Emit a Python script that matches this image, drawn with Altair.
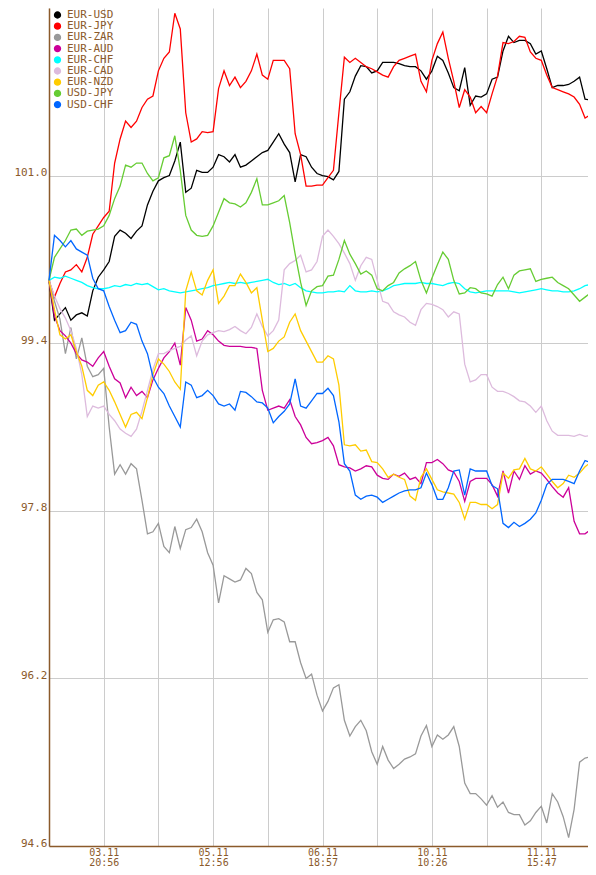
import altair as alt
import pandas as pd

pairs = ["EUR-USD", "EUR-JPY", "EUR-ZAR", "EUR-AUD", "EUR-CHF",
         "EUR-CAD", "EUR-NZD", "USD-JPY", "USD-CHF"]
colors = ["#000000", "#FF0000", "#999999", "#CC0099", "#00FFFF",
          "#DDBBDD", "#FFCC00", "#66CC33", "#0066FF"]

EUR_USD = [
    100.00, 99.62, 99.68, 99.74, 99.62, 99.67, 99.69, 99.66, 99.90, 100.03,
    100.10, 100.18, 100.42, 100.48, 100.45, 100.40, 100.47, 100.52, 100.72, 100.85,
    100.95, 100.98, 101.00, 101.14, 101.32, 100.84, 100.88, 101.05, 101.03, 101.03,
    101.08, 101.20, 101.18, 101.13, 101.20, 101.08, 101.10, 101.14, 101.18, 101.22,
    101.24, 101.32, 101.40, 101.30, 101.22, 100.94, 101.20, 101.18, 101.08, 101.02,
    101.00, 100.99, 100.96, 101.04, 101.73, 101.80, 101.95, 102.05, 102.04, 101.98,
    102.00, 102.08, 102.08, 102.08, 102.07, 102.05, 102.04, 102.04, 102.00, 101.92,
    102.00, 102.14, 102.10, 101.98, 101.84, 101.81, 102.03, 101.67, 101.76, 101.75,
    101.78, 101.92, 101.94, 102.19, 102.33, 102.27, 102.29, 102.29, 102.26, 102.16,
    102.19, 102.02, 101.84, 101.86, 101.86, 101.87, 101.90, 101.94, 101.73, 101.72,
    101.69]

EUR_JPY = [
    100.00, 99.84, 99.97, 100.08, 100.10, 100.15, 100.08, 100.22, 100.44, 100.52,
    100.60, 100.66, 101.12, 101.35, 101.52, 101.46, 101.52, 101.65, 101.73, 101.76,
    102.00, 102.12, 102.18, 102.55, 102.40, 101.60, 101.32, 101.35, 101.42, 101.41,
    101.42, 101.83, 102.00, 101.86, 101.94, 101.84, 101.90, 102.00, 102.16, 101.96,
    101.92, 102.10, 102.10, 102.10, 102.02, 101.40, 101.20, 100.90, 100.90, 100.91,
    100.91, 100.98, 101.05, 101.60, 102.13, 102.08, 102.12, 102.08, 102.04, 102.02,
    101.99, 101.96, 101.94, 102.04, 102.10, 102.12, 102.14, 102.16, 101.90, 101.80,
    102.10, 102.26, 102.37, 102.12, 101.90, 101.65, 101.82, 101.75, 101.60, 101.66,
    101.60, 101.78, 101.95, 102.27, 102.26, 102.28, 102.33, 102.32, 102.18, 102.12,
    102.10, 101.96, 101.84, 101.82, 101.80, 101.78, 101.75, 101.68, 101.55, 101.58,
    101.57]

EUR_ZAR = [
    100.00, 99.80, 99.63, 99.30, 99.55, 99.25, 99.45, 99.18, 99.08, 99.10,
    99.16, 98.60, 98.15, 98.24, 98.15, 98.25, 98.20, 97.90, 97.58, 97.60,
    97.68, 97.46, 97.40, 97.65, 97.44, 97.62, 97.64, 97.72, 97.60, 97.40,
    97.28, 96.92, 97.18, 97.15, 97.12, 97.14, 97.25, 97.20, 97.02, 96.95,
    96.64, 96.76, 96.77, 96.74, 96.55, 96.55, 96.35, 96.20, 96.24, 96.04,
    95.89, 95.98, 96.11, 96.14, 95.80, 95.65, 95.74, 95.80, 95.70, 95.50,
    95.38, 95.55, 95.42, 95.34, 95.38, 95.43, 95.45, 95.48, 95.65, 95.75,
    95.55, 95.66, 95.62, 95.66, 95.74, 95.55, 95.20, 95.10, 95.10, 95.05,
    94.99, 95.08, 94.97, 95.02, 94.92, 94.90, 94.90, 94.80, 94.84, 94.92,
    94.98, 94.82, 95.10, 95.02, 94.88, 94.68, 94.95, 95.40, 95.44, 95.45,
    95.48]

EUR_AUD = [
    100.00, 99.66, 99.52, 99.47, 99.40, 99.30, 99.24, 99.22, 99.18, 99.26,
    99.32, 99.18, 99.06, 99.02, 98.88, 98.98, 98.90, 98.94, 98.88, 99.05,
    99.16, 99.26, 99.32, 99.40, 99.19, 99.74, 99.62, 99.42, 99.44, 99.52,
    99.48, 99.42, 99.38, 99.37, 99.37, 99.37, 99.36, 99.36, 99.35, 98.95,
    98.76, 98.78, 98.80, 98.78, 98.86, 98.70, 98.62, 98.50, 98.44, 98.45,
    98.47, 98.50, 98.42, 98.24, 98.22, 98.21, 98.18, 98.20, 98.23, 98.22,
    98.14, 98.11, 98.10, 98.15, 98.13, 98.16, 98.10, 98.12, 98.06, 98.26,
    98.26, 98.29, 98.25, 98.19, 98.17, 98.08, 97.89, 98.08, 98.11, 98.11,
    98.11, 98.05, 97.94, 98.18, 97.97, 98.18, 98.10, 98.23, 98.15, 98.18,
    98.16, 98.10, 98.03, 97.97, 97.93, 98.02, 97.70, 97.58, 97.58, 97.62,
    97.67]

EUR_CHF = [
    100.00, 100.03, 100.02, 100.04, 100.02, 100.00, 99.98, 99.95, 99.93, 99.92,
    99.92, 99.93, 99.95, 99.94, 99.96, 99.95, 99.97, 99.96, 99.97, 99.94,
    99.91, 99.92, 99.90, 99.89, 99.88, 99.89, 99.90, 99.91, 99.92, 99.93,
    99.95, 99.96, 99.97, 99.98, 99.97, 99.98, 99.97, 99.98, 99.99, 100.00,
    100.01, 99.98, 99.96, 99.97, 99.95, 99.97, 99.93, 99.90, 99.89, 99.88,
    99.88, 99.89, 99.89, 99.90, 99.89, 99.95, 99.90, 99.89, 99.89, 99.90,
    99.89, 99.90, 99.92, 99.95, 99.96, 99.97, 99.97, 99.97, 99.98, 99.97,
    99.97, 99.96, 99.95, 99.97, 99.98, 99.97, 99.92, 99.89, 99.88, 99.89,
    99.90, 99.90, 99.90, 99.90, 99.90, 99.89, 99.88, 99.89, 99.90, 99.91,
    99.92, 99.91, 99.90, 99.90, 99.89, 99.89, 99.90, 99.92, 99.95, 99.96,
    99.96]

EUR_CAD = [
    100.00, 99.85, 99.73, 99.64, 99.52, 99.35, 99.10, 98.70, 98.80, 98.78,
    98.80, 98.72, 98.66, 98.58, 98.54, 98.51, 98.58, 98.75, 98.95, 99.15,
    99.30, 99.30, 99.33, 99.35, 99.37, 99.43, 99.47, 99.28, 99.42, 99.48,
    99.50, 99.52, 99.51, 99.53, 99.56, 99.52, 99.49, 99.55, 99.68, 99.56,
    99.47, 99.52, 99.62, 100.10, 100.16, 100.19, 100.24, 100.08, 100.10, 100.18,
    100.42, 100.48, 100.42, 100.35, 100.26, 100.16, 100.00, 100.14, 100.22, 100.20,
    100.00, 99.80, 99.78, 99.70, 99.67, 99.65, 99.60, 99.57, 99.72, 99.78,
    99.77, 99.75, 99.72, 99.65, 99.70, 99.68, 99.20, 99.03, 99.05, 99.10,
    99.10, 98.98, 98.94, 98.94, 98.92, 98.89, 98.85, 98.84, 98.80, 98.74,
    98.80, 98.66, 98.56, 98.52, 98.52, 98.52, 98.51, 98.53, 98.51, 98.52,
    98.55]

EUR_NZD = [
    100.00, 99.72, 99.48, 99.44, 99.48, 99.32, 99.18, 98.95, 98.90, 99.00,
    99.03, 98.95, 98.84, 98.72, 98.60, 98.72, 98.74, 98.68, 98.88, 99.10,
    99.25, 99.20, 99.13, 99.03, 98.96, 99.90, 100.08, 99.90, 99.86, 100.00,
    100.10, 99.78, 99.85, 99.95, 99.95, 100.06, 99.98, 99.88, 99.93, 99.62,
    99.32, 99.35, 99.42, 99.46, 99.60, 99.68, 99.52, 99.42, 99.32, 99.22,
    99.22, 99.28, 99.25, 99.00, 98.43, 98.42, 98.43, 98.37, 98.38, 98.27,
    98.26, 98.20, 98.12, 98.15, 98.12, 98.10, 97.94, 97.90, 98.12, 98.20,
    98.10, 98.00, 97.98, 97.97, 97.96, 97.88, 97.72, 97.88, 97.88, 97.86,
    97.86, 97.82, 97.86, 98.16, 98.11, 98.19, 98.20, 98.30, 98.20, 98.18,
    98.22, 98.15, 98.08, 98.02, 98.06, 98.14, 98.12, 98.16, 98.22, 98.26,
    98.32]

USD_JPY = [
    100.00, 100.22, 100.30, 100.38, 100.48, 100.49, 100.43, 100.47, 100.48, 100.49,
    100.52, 100.62, 100.78, 100.90, 101.10, 101.08, 101.12, 101.12, 101.02, 100.95,
    100.98, 101.17, 101.19, 101.38, 101.05, 100.62, 100.48, 100.43, 100.42, 100.43,
    100.52, 100.65, 100.78, 100.74, 100.73, 100.70, 100.74, 100.84, 100.97, 100.72,
    100.72, 100.74, 100.76, 100.81, 100.55, 100.25, 99.98, 99.76, 99.90, 99.94,
    99.95, 100.04, 100.05, 100.20, 100.38, 100.25, 100.16, 100.06, 100.09, 100.05,
    99.92, 99.90, 99.95, 99.98, 100.07, 100.11, 100.14, 100.18, 100.00, 99.88,
    100.02, 100.15, 100.27, 100.20, 100.00, 99.87, 99.88, 99.93, 99.92, 99.88,
    99.87, 99.85, 99.96, 100.03, 99.92, 100.05, 100.09, 100.10, 100.11, 99.99,
    100.01, 100.02, 100.03, 99.98, 99.95, 99.92, 99.86, 99.80, 99.84, 99.88,
    99.94]

USD_CHF = [
    100.00, 100.43, 100.38, 100.32, 100.38, 100.30, 100.27, 100.24, 100.02, 99.92,
    99.90, 99.75, 99.62, 99.50, 99.52, 99.60, 99.58, 99.42, 99.30, 99.08,
    98.98, 98.92, 98.80, 98.70, 98.60, 99.03, 99.00, 98.88, 98.90, 98.95,
    98.90, 98.82, 98.80, 98.82, 98.76, 98.94, 98.93, 98.89, 98.84, 98.83,
    98.78, 98.64, 98.70, 98.75, 98.82, 99.06, 98.80, 98.78, 98.85, 98.92,
    98.92, 98.97, 98.90, 98.65, 98.25, 98.18, 97.95, 97.91, 97.94, 97.95,
    97.93, 97.88, 97.91, 97.94, 97.97, 97.99, 98.00, 98.00, 98.02, 98.16,
    98.05, 97.91, 97.91, 98.02, 98.18, 98.19, 97.95, 98.20, 98.18, 98.18,
    98.18, 98.04, 98.01, 97.68, 97.64, 97.69, 97.65, 97.68, 97.72, 97.78,
    97.90, 98.05, 98.10, 98.10, 98.10, 98.08, 98.06, 98.18, 98.28, 98.26,
    98.29]

series = [EUR_USD, EUR_JPY, EUR_ZAR, EUR_AUD, EUR_CHF,
          EUR_CAD, EUR_NZD, USD_JPY, USD_CHF]

x_grid_values = [0, 10, 20, 30, 40, 50, 60, 70, 80, 90, 100]
x_label_positions = [10, 30, 50, 70, 90]
x_label_dates = ["03.11", "05.11", "06.11", "10.11", "11.11"]
x_label_times = ["20:56", "12:56", "18:57", "10:26", "15:47"]
y_tick_values = [94.6, 96.2, 97.8, 99.4, 101.0]
y_domain = [94.6, 102.6]

rows = []
for k, (name, vals) in enumerate(zip(pairs, series)):
    for i, v in enumerate(vals):
        rows.append({"idx": i, "value": v, "pair": name, "k": k})
df = pd.DataFrame(rows)

label_expr = ""
for p, d, t in zip(x_label_positions, x_label_dates, x_label_times):
    label_expr += f"datum.value == {p} ? ['{d}', '{t}'] : "
label_expr += "''"

brown = "#8B5A2B"
font = "DejaVu Sans Mono"

chart = alt.Chart(df).mark_line(strokeWidth=1.3).encode(
    x=alt.X("idx:Q",
            scale=alt.Scale(domain=[0, 100], nice=False, zero=False),
            axis=alt.Axis(values=x_grid_values, labelExpr=label_expr, grid=True,
                          ticks=False, labelPadding=1, labelBaseline="top",
                          labelFontSize=10, labelLineHeight=10.5,
                          labelFlush=False, labelOverlap=False),
            title=None),
    y=alt.Y("value:Q",
            scale=alt.Scale(domain=y_domain, nice=False, zero=False),
            axis=alt.Axis(values=y_tick_values, format=".1f", grid=True, ticks=False,
                          labelPadding=2, labelBaseline="alphabetic",
                          labelFlush=False, labelOverlap=False),
            title=None),
    color=alt.Color("pair:N",
                    scale=alt.Scale(domain=pairs, range=colors),
                    sort=pairs,
                    legend=alt.Legend(orient="none", legendX=3, legendY=2,
                                      symbolType="circle", symbolSize=14,
                                      symbolStrokeWidth=3.6, labelOffset=4,
                                      clipHeight=10, rowPadding=0.2, padding=0,
                                      labelFont=font, labelFontSize=11,
                                      labelColor=brown, title=None)),
    order=alt.Order("k:Q"),
    detail="pair:N",
).properties(
    width=547, height=838,
    autosize=alt.AutoSizeParams(type="none"),
    padding={"left": 41, "top": 0, "right": -8, "bottom": 21},
    background="white",
).configure_view(
    stroke=None
).configure_axis(
    domainColor=brown, domainWidth=1.5,
    gridColor="#cccccc", gridWidth=1,
    labelFont=font, labelFontSize=11, labelColor=brown,
)

chart.save("out.html", embed_options={"renderer": "svg", "actions": False})
